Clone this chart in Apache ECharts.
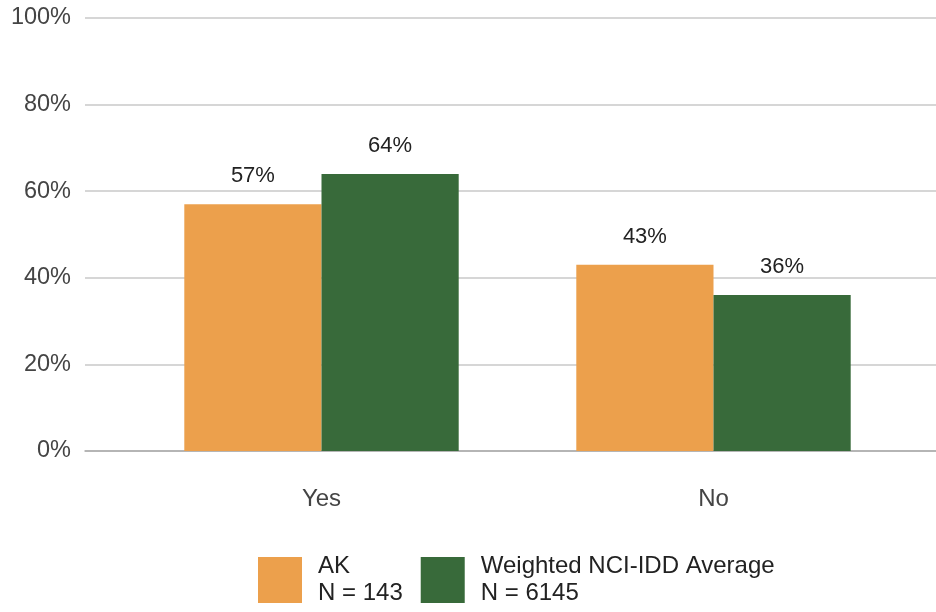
<!DOCTYPE html>
<html>
<head>
<meta charset="utf-8">
<script src="https://cdn.jsdelivr.net/npm/echarts@6/dist/echarts.min.js"></script>
<style>html,body{margin:0;padding:0;background:#fff}#c{width:936px;height:612px}</style>
</head>
<body>
<div id="c"></div>
<script>
const categories = ['Yes', 'No'];
const seriesNames = ['AK\nN = 143', 'Weighted NCI-IDD Average\nN = 6145'];
const akValues = [57, 43];
const nciValues = [64, 36];
const colors = ['#eca04c', '#386a3a'];

const chart = echarts.init(document.getElementById('c'), null, {renderer: 'canvas'});
const font = 'Arial, "Liberation Sans", sans-serif';
const labelCfg = {
  show: true, position: 'top', distance: 17,
  formatter: p => p.value + '%',
  color: '#222', fontSize: 22, fontFamily: font
};
chart.setOption({
  animation: false,
  grid: [
    {left: 85, right: 0, top: 18, height: 433},
    {left: 125.5, right: 26.5, top: 18, height: 433}
  ],
  xAxis: [
    {gridIndex: 0, type: 'value', min: 0, max: 1, axisLine: {show: true, onZero: false, lineStyle: {color: '#aaa', width: 1.5}},
     axisTick: {show: false}, axisLabel: {show: false}, splitLine: {show: false}},
    {gridIndex: 1, type: 'category', data: categories, axisLine: {show: false}, axisTick: {show: false},
     axisLabel: {color: '#444', fontSize: 24, fontFamily: font, margin: 36}}
  ],
  yAxis: [
    {gridIndex: 0, type: 'value', min: 0, max: 100, interval: 20,
     axisLabel: {formatter: v => v + '%', color: '#444', fontSize: 23.5, fontFamily: font, margin: 14},
     axisLine: {show: false}, axisTick: {show: false},
     splitLine: {lineStyle: {color: '#c8c8c8', width: 1.5}}},
    {gridIndex: 1, type: 'value', min: 0, max: 100, interval: 20, show: false, splitLine: {show: false}}
  ],
  legend: {
    left: 258, top: 550, padding: 0, itemWidth: 44, itemHeight: 46, itemGap: 18, icon: 'rect',
    data: seriesNames,
    textStyle: {color: '#222', fontSize: 24, fontFamily: font, lineHeight: 27, padding: [6, 0, 0, 11]}
  },
  series: [
    {name: seriesNames[0], type: 'bar', xAxisIndex: 1, yAxisIndex: 1, data: akValues,
     itemStyle: {color: colors[0]}, barGap: '0%', barCategoryGap: '30%', label: labelCfg},
    {name: seriesNames[1], type: 'bar', xAxisIndex: 1, yAxisIndex: 1, data: nciValues,
     itemStyle: {color: colors[1]}, barGap: '0%', barCategoryGap: '30%', label: labelCfg}
  ]
});
</script>
</body>
</html>
